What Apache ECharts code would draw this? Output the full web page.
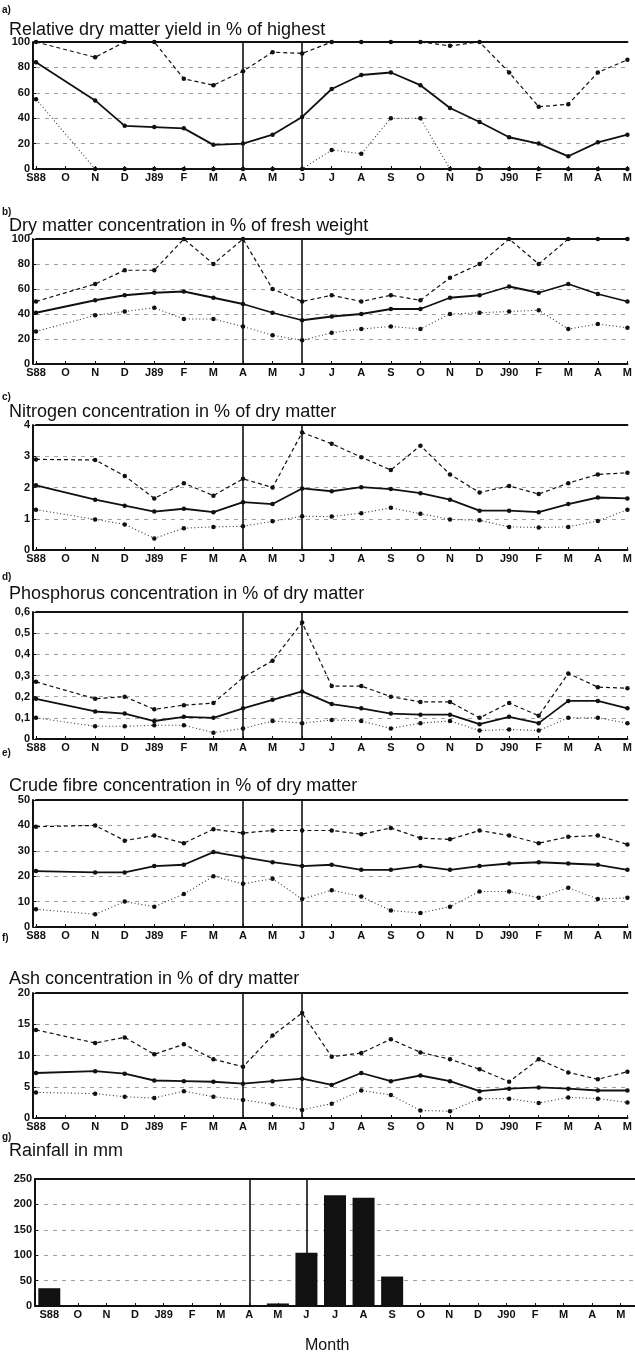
<!DOCTYPE html>
<html>
<head>
<meta charset="utf-8">
<script src="https://cdn.jsdelivr.net/npm/echarts@6/dist/echarts.min.js"></script>
<style>
  html, body { margin: 0; padding: 0; background: #fff; }
  #chart { width: 635px; height: 1360px; }
</style>
</head>
<body>
<div id="chart"></div>
<script>
// Sampling months, Sept 1988 to May 1990 (no sample in Oct 1988)
const months = ['S88','O','N','D','J89','F','M','A','M','J','J','A','S','O','N','D','J90','F','M','A','M'];

// a) Relative dry matter yield, % of highest
const yieldMax  = [100,null,88,100,100,71,66,77,92,91,100,100,100,100,97,100,76,49,51,76,86];
const yieldMean = [84,null,54,34,33,32,19,20,27,41,63,74,76,66,48,37,25,20,10,21,27];
const yieldMin  = [55,null,0,0,0,0,0,0,0,0,15,12,40,40,0,0,0,0,0,0,0];

// b) Dry matter, % of fresh weight
const dmMax  = [50,null,64,75,75,100,80,100,60,50,55,50,55,51,69,80,100,80,100,100,100];
const dmMean = [41,null,51,55,57,58,53,48,41,35,38,40,44,44,53,55,62,57,64,56,50];
const dmMin  = [26,null,39,42,45,36,36,30,23,19,25,28,30,28,40,41,42,43,28,32,29];

// c) Nitrogen, % of dry matter
const nMax  = [2.9,null,2.88,2.37,1.65,2.14,1.74,2.28,2.0,3.76,3.4,2.97,2.56,3.34,2.42,1.84,2.05,1.79,2.14,2.42,2.47];
const nMean = [2.07,null,1.61,1.42,1.23,1.32,1.21,1.53,1.47,1.97,1.88,2.01,1.95,1.82,1.61,1.26,1.26,1.21,1.47,1.68,1.65];
const nMin  = [1.29,null,0.98,0.82,0.37,0.7,0.74,0.76,0.92,1.08,1.07,1.18,1.35,1.16,0.98,0.95,0.74,0.72,0.74,0.93,1.29];

// d) Phosphorus, % of dry matter
const pMax  = [0.27,null,0.19,0.2,0.14,0.16,0.17,0.29,0.37,0.55,0.25,0.25,0.2,0.175,0.175,0.1,0.17,0.11,0.31,0.245,0.24];
const pMean = [0.19,null,0.13,0.12,0.085,0.105,0.1,0.145,0.185,0.225,0.165,0.145,0.12,0.115,0.115,0.07,0.105,0.075,0.18,0.18,0.145];
const pMin  = [0.1,null,0.06,0.06,0.065,0.065,0.03,0.05,0.085,0.075,0.09,0.085,0.05,0.075,0.085,0.04,0.045,0.04,0.1,0.1,0.075];

// e) Crude fibre, % of dry matter
const fibreMax  = [39.5,null,40,34,36,33,38.5,37,38,38,38,36.5,39,35,34.5,38,36,33,35.5,36,32.5];
const fibreMean = [22,null,21.5,21.5,24,24.5,29.5,27.5,25.5,24,24.5,22.5,22.5,24,22.5,24,25,25.5,25,24.5,22.5];
const fibreMin  = [7,null,5,10,8,13,20,17,19,11,14.5,12,6.5,5.5,8,14,14,11.5,15.5,11,11.5];

// f) Ash, % of dry matter
const ashMax  = [14.1,null,12,12.9,10.2,11.8,9.4,8.2,13.2,16.8,9.8,10.4,12.6,10.5,9.4,7.8,5.8,9.4,7.3,6.2,7.4];
const ashMean = [7.2,null,7.5,7.1,6.0,5.9,5.8,5.5,5.9,6.3,5.3,7.2,5.9,6.8,5.9,4.3,4.7,4.9,4.7,4.4,4.4];
const ashMin  = [4.1,null,3.9,3.4,3.2,4.3,3.4,2.9,2.2,1.3,2.3,4.4,3.7,1.2,1.1,3.1,3.1,2.4,3.3,3.1,2.5];

// g) Monthly rainfall, mm
const rainfall = [35,0,0,0,0,0,0,0,5,105,218,213,58,0,0,0,0,0,0,0,0];

// Panel headings
const panelLetters = ['a)','b)','c)','d)','e)','f)','g)'];
const panelTitles = [
  'Relative dry matter yield in % of highest',
  'Dry matter concentration in % of fresh weight',
  'Nitrogen concentration in % of dry matter',
  'Phosphorus concentration in % of dry matter',
  'Crude fibre concentration in % of dry matter',
  'Ash concentration in % of dry matter',
  'Rainfall in mm'
];
const xAxisName = 'Month';

// y scales: [min, max, step]
const yScales = [[0,100,20],[0,100,20],[0,4,1],[0,0.6,0.1],[0,50,10],[0,20,5],[0,250,50]];

// Indices of the two marked months (April and June 1989)
const markedMonths = [7, 9];

// ---- layout ----
const panels = [
  {top: 42,   height: 127, letterY: 10,   titleY: 30},
  {top: 239,  height: 125, letterY: 212,  titleY: 226},
  {top: 425,  height: 125, letterY: 397,  titleY: 412},
  {top: 612,  height: 127, letterY: 577,  titleY: 594},
  {top: 800,  height: 127, letterY: 753,  titleY: 786},
  {top: 993,  height: 125, letterY: 938,  titleY: 979},
  {top: 1179, height: 127, letterY: 1137, titleY: 1151}
];
const lineData = [
  [yieldMax, yieldMean, yieldMin],
  [dmMax, dmMean, dmMin],
  [nMax, nMean, nMin],
  [pMax, pMean, pMin],
  [fibreMax, fibreMean, fibreMin],
  [ashMax, ashMean, ashMin]
];

const FONT = '"Liberation Sans", Arial, sans-serif';
const INK = '#111';

const grids = [], xAxes = [], yAxes = [], series = [], titles = [];

panels.forEach((p, i) => {
  const isBar = i === 6;
  grids.push(isBar
    ? {left: 35, right: -2, top: p.top, height: p.height}
    : {left: 36, right: 3, top: p.top, height: p.height});

  const axisLabel = {color: INK, fontFamily: FONT, fontWeight: 'bold', fontSize: 11, margin: 3};
  // bottom month axis
  xAxes.push({
    type: 'category', gridIndex: i, data: months, boundaryGap: isBar,
    axisLine: {show: true, lineStyle: {color: INK, width: 2}},
    axisTick: {show: true, inside: true, length: 3, alignWithLabel: true, lineStyle: {color: INK}},
    axisLabel: axisLabel,
    splitLine: {show: false}
  });
  // top frame line
  xAxes.push({
    type: 'category', gridIndex: i, data: months, boundaryGap: isBar, position: 'top',
    axisLine: {show: true, lineStyle: {color: INK, width: 2}},
    axisTick: {show: false}, axisLabel: {show: false}, splitLine: {show: false}
  });

  const [mn, mx, st] = yScales[i];
  yAxes.push({
    type: 'value', gridIndex: i, min: mn, max: mx, interval: st, offset: isBar ? 0 : 3,
    axisLine: {show: true, lineStyle: {color: INK, width: 2}},
    axisTick: {show: true, inside: true, length: 3, lineStyle: {color: INK}},
    axisLabel: Object.assign({}, axisLabel, {
      margin: 3,
      formatter: v => (i === 3 && v !== 0) ? v.toFixed(1).replace('.', ',') : String(v)
    }),
    splitLine: {show: true, lineStyle: {color: '#888', width: 0.8, type: [4, 5]}}
  });

  const vLines = {
    silent: true, symbol: 'none', label: {show: false},
    lineStyle: {color: INK, type: 'solid', width: 1.6},
    data: markedMonths.map(m => ({xAxis: m}))
  };

  if (isBar) {
    series.push({
      type: 'bar', xAxisIndex: 2 * i, yAxisIndex: i, data: rainfall,
      barWidth: 22, itemStyle: {color: INK}, markLine: vLines, z: 3
    });
  } else {
    const [hi, mid, lo] = lineData[i];
    const common = {
      type: 'line', xAxisIndex: 2 * i, yAxisIndex: i, connectNulls: true,
      symbol: 'circle', symbolSize: 4.5, itemStyle: {color: INK}, animation: false
    };
    series.push(Object.assign({}, common, {data: hi, lineStyle: {color: INK, width: 1.2, type: [4, 3]}}));
    series.push(Object.assign({}, common, {data: mid, lineStyle: {color: INK, width: 1.8, type: 'solid'}, markLine: vLines}));
    series.push(Object.assign({}, common, {data: lo, lineStyle: {color: '#333', width: 1.1, type: [1, 2.5]}}));
  }

  titles.push({
    text: panelLetters[i], left: 2, top: p.letterY - 5, padding: 0,
    textStyle: {fontFamily: FONT, fontWeight: 'bold', fontSize: 10, color: INK}
  });
  titles.push({
    text: panelTitles[i], left: 9, top: p.titleY - 9, padding: 0,
    textStyle: {fontFamily: FONT, fontWeight: 'normal', fontSize: 18, color: INK}
  });
});

titles.push({
  text: xAxisName, left: 305, top: 1338, padding: 0,
  textStyle: {fontFamily: FONT, fontWeight: 'normal', fontSize: 16, color: INK}
});

const chart = echarts.init(document.getElementById('chart'), null, {renderer: 'canvas'});
chart.setOption({
  backgroundColor: '#fff',
  animation: false,
  title: titles,
  grid: grids,
  xAxis: xAxes,
  yAxis: yAxes,
  series: series
});
</script>
</body>
</html>
